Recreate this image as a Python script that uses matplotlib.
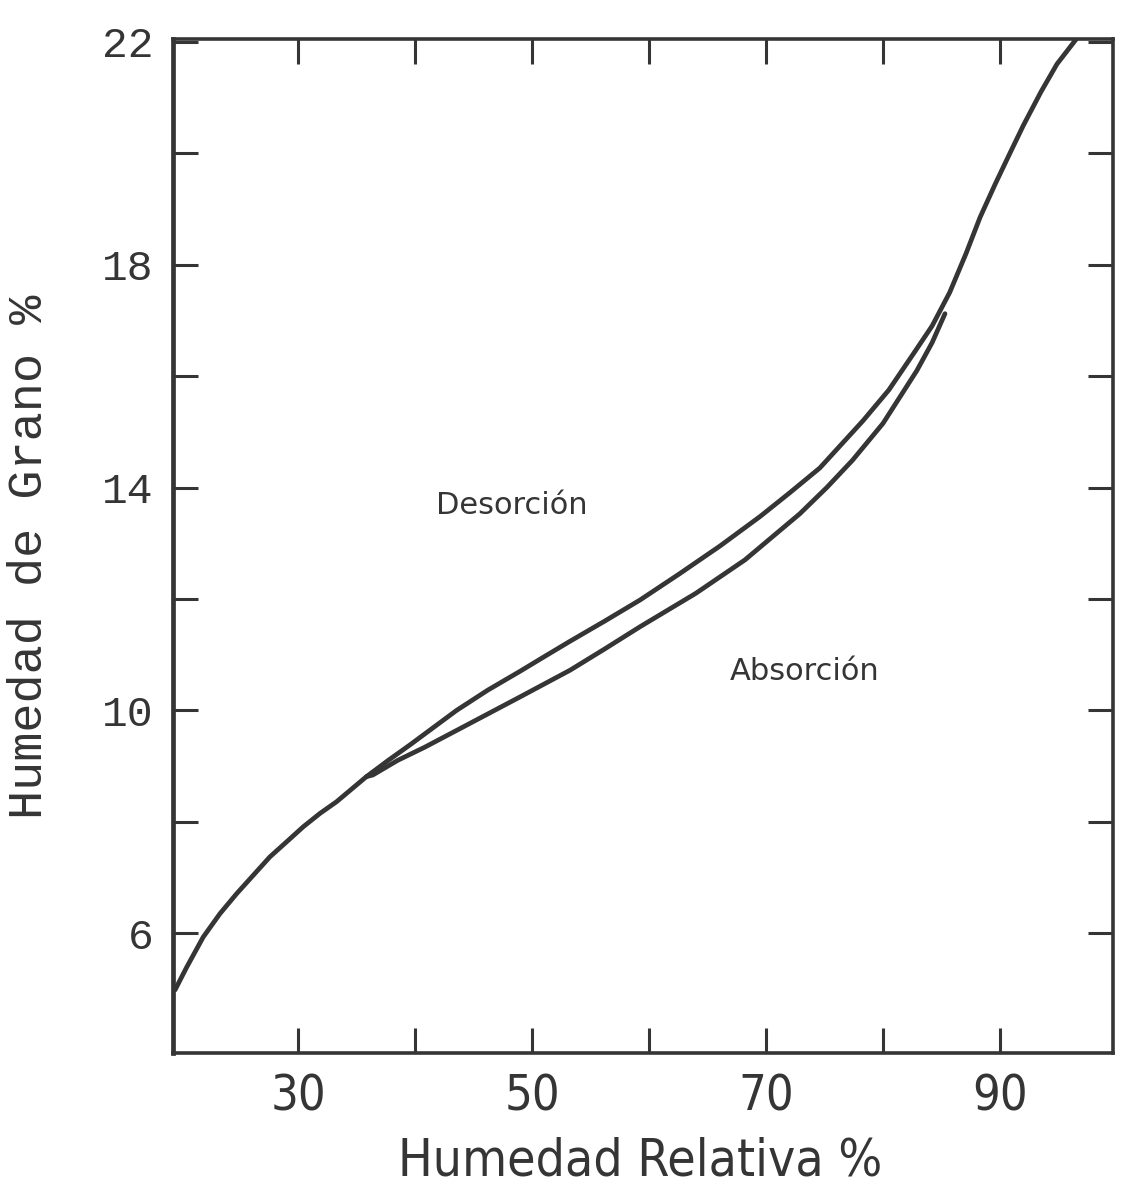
import matplotlib
matplotlib.use("Agg")
import matplotlib.pyplot as plt
from matplotlib.ticker import FixedLocator, FixedFormatter

# ---- data ----
desorcion_rh = [19.49, 20.49, 21.9, 23.33, 24.76, 26.18, 27.6, 29.03, 30.45, 31.88,
                33.3, 35.0, 35.85, 37.7, 39.57, 41.5, 43.56, 46.2, 48.97, 51.1,
                53.25, 56.2, 59.23, 62.6, 66.07, 69.5, 72.0, 74.6, 78.3, 80.5,
                82.6, 84.2, 85.7, 87.1, 88.3, 89.6, 90.85, 92.0, 93.5, 94.87, 96.6]
desorcion_hg = [4.98, 5.39, 5.93, 6.35, 6.71, 7.04, 7.37, 7.64, 7.91, 8.15,
                8.36, 8.66, 8.81, 9.10, 9.38, 9.68, 10.0, 10.36, 10.70, 10.97,
                11.24, 11.6, 11.98, 12.45, 12.95, 13.48, 13.9, 14.35, 15.2, 15.75,
                16.4, 16.9, 17.5, 18.2, 18.85, 19.45, 20.0, 20.5, 21.1, 21.6, 22.07]

absorcion_rh = [35.85, 36.4, 38.5, 40.85, 44.1, 48.97, 53.25, 56.2, 59.23, 64.0,
                68.2, 72.9, 75.2, 77.4, 80.0, 82.9, 84.2, 85.3]
absorcion_hg = [8.81, 8.84, 9.10, 9.34, 9.70, 10.24, 10.72, 11.1, 11.5, 12.1,
                12.7, 13.53, 14.0, 14.49, 15.15, 16.1, 16.6, 17.12]

x_ticks = [30, 40, 50, 60, 70, 80, 90]
x_labels = ["30", "", "50", "", "70", "", "90"]
y_ticks = [6, 8, 10, 12, 14, 16, 18, 20, 22]
y_labels = ["6", "", "10", "", "14", "", "18", "", "22"]

label_desorcion = "Desorción"
label_absorcion = "Absorción"
x_title = "Humedad Relativa %"
y_title = "Humedad de Grano %"

# ---- figure ----
ink = "#353535"
fig = plt.figure(figsize=(11.22, 11.99), dpi=100)
fig.patch.set_facecolor("white")
ax = fig.add_axes([173/1122, 1-1053/1199, (1113-173)/1122, (1053-39)/1199])

for xs, ys in ((desorcion_rh, desorcion_hg), (absorcion_rh, absorcion_hg)):
    ax.plot(xs, ys, color=ink, lw=3.4, solid_capstyle="round",
            solid_joinstyle="round")

ax.set_xlim(19.32, 99.66)
ax.set_ylim(3.85, 22.05)

sans = ["DejaVu Sans"]
mono = ["Liberation Mono", "DejaVu Sans Mono"]

ax.xaxis.set_major_locator(FixedLocator(x_ticks))
ax.xaxis.set_major_formatter(FixedFormatter(x_labels))
ax.yaxis.set_major_locator(FixedLocator(y_ticks))
ax.yaxis.set_major_formatter(FixedFormatter(y_labels))

ax.tick_params(axis="both", direction="in", length=18, width=2.2, color=ink,
               top=True, right=True)
ax.tick_params(axis="x", pad=14, labelsize=35, labelcolor=ink)
ax.tick_params(axis="y", pad=14, labelsize=31, labelcolor=ink)
for lab in ax.get_xticklabels():
    lab.set_family(sans)
    lab.set_stretch("condensed")
for lab in ax.get_yticklabels():
    lab.set_family(mono)

for side, sp in ax.spines.items():
    sp.set_color(ink)
    sp.set_linewidth(2.6)
ax.spines["left"].set_linewidth(3.4)

ax.text(48.3, 13.67, label_desorcion, fontsize=22, color=ink, ha="center",
        va="center", family=sans)
ax.text(73.3, 10.70, label_absorcion, fontsize=22, color=ink, ha="center",
        va="center", family=sans)

fig.text(640/1122, 1-1162/1199, x_title, fontsize=37, color=ink, ha="center",
         va="center", family=sans, stretch="condensed")
fig.text(30/1122, 1-557/1199, y_title, fontsize=35, color=ink, ha="center",
         va="center", rotation=90, family=mono)

fig.savefig("out.png", dpi=100, facecolor="white")
